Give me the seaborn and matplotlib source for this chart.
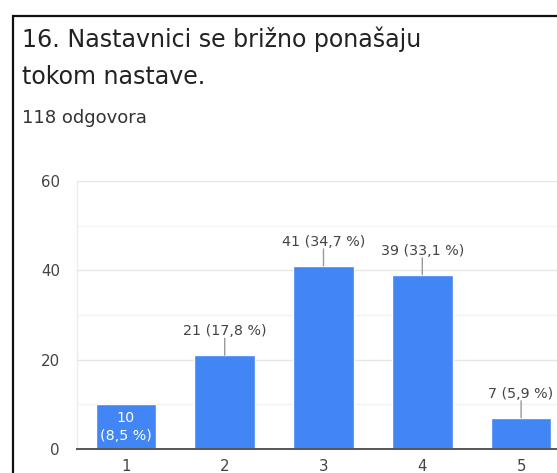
import matplotlib
matplotlib.use("Agg")
import matplotlib.pyplot as plt
from matplotlib.patches import Rectangle
import seaborn as sns
import pandas as pd

# Survey answers on a 1-5 scale
categories = ["1", "2", "3", "4", "5"]
counts = [10, 21, 41, 39, 7]
percent_labels = ["8,5 %", "17,8 %", "34,7 %", "33,1 %", "5,9 %"]
title_lines = ["16. Nastavnici se brižno ponašaju", "tokom nastave."]
subtitle = "118 odgovora"
y_ticks = [0, 20, 40, 60]
y_minor = [10, 30, 50]

BLUE = "#4285F4"
TEXT = "#444444"

sns.set_theme(style="white")
plt.rcParams["font.family"] = ["DejaVu Sans"]

W, H = 557, 473
fig = plt.figure(figsize=(W / 100, H / 100), dpi=100)
fig.patch.set_facecolor("white")

# card frame (runs off the right and bottom edges)
fig.add_artist(Rectangle((12.5 / W, -0.1), 1.2, (H - 16.5) / H + 0.1,
                         transform=fig.transFigure, fill=False,
                         edgecolor="#111111", linewidth=1.6))

# header text
fig.text(22 / W, 1 - 47 / H, title_lines[0], fontsize=17.1, color="#222222",
         ha="left", va="baseline")
fig.text(22 / W, 1 - 83.5 / H, title_lines[1], fontsize=17.1, color="#222222",
         ha="left", va="baseline")
fig.text(22 / W, 1 - 123.3 / H, subtitle, fontsize=13, color="#333333",
         ha="left", va="baseline")

# plot area: five category slots 98.75 px apart, extending past the right edge
ax = fig.add_axes([76.5 / W, (H - 449) / H, 494 / W, 268 / H])
df = pd.DataFrame({"odgovor": categories, "broj": counts})
sns.barplot(data=df, x="odgovor", y="broj", color=BLUE, saturation=1,
            width=0.615, ax=ax, zorder=3)

ax.set_xlim(-0.5, 4.5)
ax.set_ylim(0, 60)
ax.set_yticks(y_ticks)
ax.set_xlabel("")
ax.set_ylabel("")
for y in y_ticks[1:]:
    ax.axhline(y, color="#e6e6e6", linewidth=1.0, zorder=1)
for y in y_minor:
    ax.axhline(y, color="#f2f2f2", linewidth=1.0, zorder=1)

for side in ["top", "right"]:
    ax.spines[side].set_visible(False)
ax.spines["left"].set_color("#ececec")
ax.spines["left"].set_linewidth(1.0)
ax.spines["bottom"].set_color("#555555")
ax.spines["bottom"].set_linewidth(1.4)
ax.spines["bottom"].set_zorder(5)

ax.tick_params(axis="y", length=0, pad=12, labelsize=10.8, labelcolor=TEXT)
ax.tick_params(axis="x", length=0, pad=7, labelsize=10.8, labelcolor=TEXT)

# value labels
for i, (v, p) in enumerate(zip(counts, percent_labels)):
    if i == 0:
        ax.text(i, v / 2, f"{v}\n({p})", ha="center", va="center",
                color="white", fontsize=10.3, linespacing=1.35, zorder=6)
    else:
        ax.annotate("", xy=(i, v), xytext=(0, 12.2), textcoords="offset points",
                    arrowprops=dict(arrowstyle="-", color="#9a9a9a", lw=1.0,
                                    shrinkA=0, shrinkB=0), zorder=4)
        ax.annotate(f"{v} ({p})", xy=(i, v), xytext=(0, 17.3),
                    textcoords="offset points", ha="center", va="center",
                    fontsize=10.3, color=TEXT, zorder=6)

fig.savefig("out.png", dpi=100, facecolor="white")
